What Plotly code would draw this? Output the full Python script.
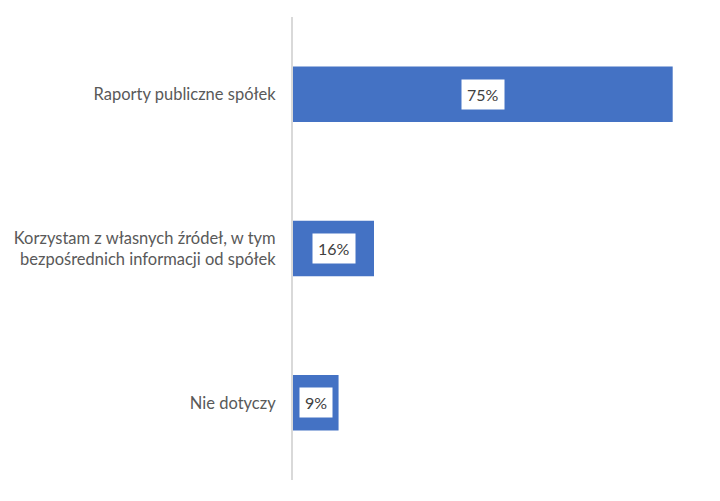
import plotly.graph_objects as go

categories = ["Raporty publiczne spółek",
              "Korzystam z własnych źródeł, w tym<br>bezpośrednich informacji od spółek",
              "Nie dotyczy"]
values = [0.75, 0.16, 0.09]
labels = ["75%", "16%", "9%"]

FONT = "Lato"

fig = go.Figure()

fig.add_trace(
    go.Bar(
        x=values,
        y=categories,
        orientation="h",
        marker=dict(color="#4472C4", line=dict(width=0)),
        width=0.36,
        hoverinfo="skip",
    )
)

# white boxed value labels centred in each bar
for cat, val, lab in zip(categories, values, labels):
    fig.add_annotation(
        x=val / 2, y=cat, text=lab, showarrow=False,
        bgcolor="white", borderpad=5,
        font=dict(family=FONT, size=16, color="#404040"),
    )

# page body adds an 8px offset, so the figure is 8px smaller than the window
fig.update_layout(
    width=712, height=493,
    margin=dict(l=285, r=22, t=9, b=21, autoexpand=False),
    paper_bgcolor="white", plot_bgcolor="white",
    showlegend=False,
    font=dict(family=FONT, size=16.5, color="#595959"),
    xaxis=dict(range=[0, 0.8], visible=False, fixedrange=True),
    yaxis=dict(
        autorange="reversed", automargin=False,
        showline=True, linecolor="#d9d9d9", linewidth=2,
        showgrid=False, zeroline=False,
        ticks="", ticklabelstandoff=12,
        tickfont=dict(family=FONT, size=16.5, color="#595959"),
    ),
)

fig.write_html("out.html")
